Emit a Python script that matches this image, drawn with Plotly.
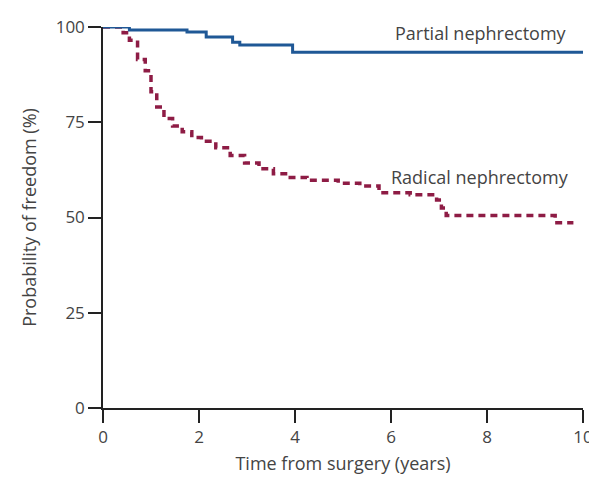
import plotly.graph_objects as go

# Kaplan-Meier style step curves (time in years, probability of freedom in %)
partial_t = [0, 0.55, 1.75, 2.15, 2.7, 2.85, 3.95, 10.0]
partial_p = [100, 99.2, 98.7, 97.4, 96.0, 95.3, 93.4, 93.4]

radical_t = [0, 0.42, 0.55, 0.72, 0.88, 1.0, 1.12, 1.27, 1.45, 1.65, 1.85, 2.05,
             2.35, 2.65, 2.95, 3.25, 3.55, 3.85, 4.25, 4.9, 5.35, 5.75, 6.4,
             6.95, 7.05, 7.15, 9.42, 9.8]
radical_p = [100, 98.5, 96.5, 91.5, 88.5, 83.0, 79.0, 76.0, 74.0, 72.5, 71.0, 70.0,
             68.3, 66.3, 64.3, 62.8, 61.5, 60.5, 59.8, 59.0, 58.3, 56.5, 56.0,
             54.6, 52.5, 50.5, 48.6, 48.6]

x_ticks = [0, 2, 4, 6, 8, 10]
y_ticks = [0, 25, 50, 75, 100]

BLUE = "#1f5896"
RED = "#8e1c45"
TEXT = "#444444"
FONT = "Open Sans"

fig = go.Figure()
fig.add_trace(go.Scatter(
    x=radical_t, y=radical_p, mode="lines", line_shape="hv",
    line=dict(color=RED, width=3.5, dash="7px,5px"), showlegend=False,
))
fig.add_trace(go.Scatter(
    x=partial_t, y=partial_p, mode="lines", line_shape="hv",
    line=dict(color=BLUE, width=3), showlegend=False,
))

fig.add_annotation(x=9.7, y=98.4, text="Partial nephrectomy", showarrow=False,
                   xanchor="right", yanchor="middle",
                   font=dict(family=FONT, size=18, color=TEXT))
fig.add_annotation(x=9.75, y=60.6, text="Radical nephrectomy", showarrow=False,
                   xanchor="right", yanchor="middle",
                   font=dict(family=FONT, size=18, color=TEXT))

fig.update_layout(
    width=589, height=488,
    margin=dict(l=103, r=6, t=27, b=80),
    paper_bgcolor="white", plot_bgcolor="white",
    font=dict(family=FONT, size=15, color=TEXT),
    xaxis=dict(
        range=[0, 10], tickvals=x_ticks, ticks="outside", ticklen=13,
        tickwidth=1.5, tickcolor="#222", showline=True, linecolor="#222",
        linewidth=1.5, showgrid=False, zeroline=False,
        ticklabeloverflow="allow", automargin=False,
        title=dict(text="Time from surgery (years)", standoff=10,
                   font=dict(size=18)),
        tickfont=dict(size=17),
    ),
    yaxis=dict(
        range=[0, 100], tickvals=y_ticks, ticks="outside", ticklen=13,
        tickwidth=1.5, tickcolor="#222", showline=True, linecolor="#222",
        linewidth=1.5, showgrid=False, zeroline=False, automargin=False,
        title=dict(text="Probability of freedom (%)", standoff=14,
                   font=dict(size=18)),
        tickfont=dict(size=17),
    ),
)

fig.write_html("out.html")
